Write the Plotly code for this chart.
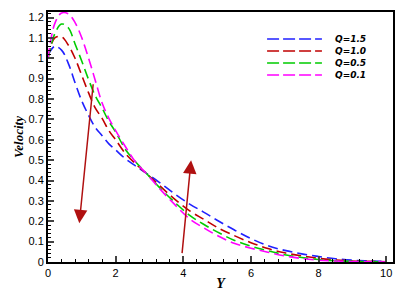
import plotly.graph_objects as go

# ---- data ----
Y = [0, 0.2, 0.4, 0.6, 0.8, 1.0, 1.2, 1.4, 1.6, 1.8, 2.0, 2.3, 2.6, 2.9, 3.3, 3.7,
     4.2, 4.6, 5.0, 5.5, 6.0, 6.5, 7.0, 7.5, 8.0, 8.5, 9.0, 9.5, 10.0]
v_q15 = [1.015, 1.058, 1.04, 0.975, 0.88, 0.79, 0.72, 0.66, 0.62, 0.58, 0.55, 0.505, 0.47, 0.436,
         0.39, 0.34, 0.283, 0.245, 0.205, 0.158, 0.115, 0.08, 0.057, 0.04, 0.027, 0.016, 0.009, 0.005, 0.003]
v_q10 = [1.0, 1.1, 1.105, 1.065, 1.0, 0.915, 0.83, 0.755, 0.705, 0.645, 0.6, 0.53, 0.48, 0.436,
         0.375, 0.315, 0.25, 0.21, 0.17, 0.13, 0.095, 0.066, 0.045, 0.03, 0.018, 0.01, 0.005, 0.003, 0.001]
v_q05 = [1.0, 1.12, 1.168, 1.15, 1.07, 0.985, 0.895, 0.815, 0.755, 0.69, 0.638, 0.55, 0.49, 0.437,
         0.365, 0.3, 0.228, 0.185, 0.148, 0.107, 0.078, 0.055, 0.036, 0.022, 0.012, 0.006, 0.003, 0.001, 0.0]
v_q01 = [1.0, 1.17, 1.222, 1.218, 1.175, 1.1, 1.0, 0.89, 0.78, 0.705, 0.645, 0.563, 0.488, 0.436,
         0.36, 0.29, 0.21, 0.168, 0.13, 0.092, 0.068, 0.048, 0.03, 0.017, 0.009, 0.005, 0.002, 0.001, 0.0]
names = ["Q=1.5", "Q=1.0", "Q=0.5", "Q=0.1"]
colors = ["#2020ff", "#c00000", "#00cc00", "#ff00ff"]
series = [v_q15, v_q10, v_q05, v_q01]

fig = go.Figure()
for vals, nm, c in zip(series, names, colors):
    fig.add_trace(go.Scatter(x=Y, y=vals, mode="lines", name=nm, line_shape="spline",
                             line=dict(color=c, width=1.6, dash="10px,5px"), showlegend=False))

# manual legend
leg_y = [0.892, 0.844, 0.796, 0.748]
for nm, c, ly in zip(names, colors, leg_y):
    fig.add_shape(type="line", xref="paper", yref="paper", x0=0.635, x1=0.794, y0=ly, y1=ly,
                  line=dict(color=c, width=1.3, dash="12px,4px"))
    fig.add_annotation(xref="paper", yref="paper", x=0.826, y=ly, text="<b>" + nm + "</b>", showarrow=False,
                       xanchor="left", yanchor="middle",
                       font=dict(family="DejaVu Sans", size=9, color="black", style="italic"))

arrow_color = "#b01010"
fig.add_annotation(x=0.925, y=0.19, ax=1.34, ay=0.88, xref="x", yref="y", axref="x", ayref="y",
                   showarrow=True, arrowhead=2, arrowsize=1.8, arrowwidth=1.5, arrowcolor=arrow_color, text="")
fig.add_annotation(x=4.23, y=0.5, ax=3.96, ay=0.036, xref="x", yref="y", axref="x", ayref="y",
                   showarrow=True, arrowhead=2, arrowsize=1.8, arrowwidth=1.5, arrowcolor=arrow_color, text="")

tickfont = dict(family="Liberation Sans", size=11, color="black")
fig.update_xaxes(range=[0, 10.2], dtick=2, tick0=0, ticks="inside", ticklen=6, tickwidth=2,
                 showline=True, linecolor="black", linewidth=1.5, mirror=True, showgrid=False,
                 zeroline=False, tickfont=tickfont, automargin=False,
                 minor=dict(dtick=0.4, ticks="inside", ticklen=3, tickwidth=1, tickcolor="black", showgrid=False),
                 title=dict(text="<b><i>Y</i></b>", font=dict(family="Liberation Serif", size=14, color="black"),
                            standoff=0))
fig.update_yaxes(range=[0, 1.227], dtick=0.1, tick0=0, ticks="inside", ticklen=6, tickwidth=2,
                 showline=True, linecolor="black", linewidth=2, mirror=True, showgrid=False,
                 zeroline=False, tickfont=tickfont, automargin=False,
                 minor=dict(dtick=0.02, ticks="inside", ticklen=3, tickwidth=1, tickcolor="black", showgrid=False),
                 title=dict(text="<b><i>Velocity</i></b>", font=dict(family="Liberation Serif", size=13, color="black"),
                            standoff=2))
# page body adds an 8px offset; size the figure so the plot area lands where the reference has it
fig.update_layout(width=399, height=283, margin=dict(l=40, r=14, t=4, b=29, autoexpand=False),
                  plot_bgcolor="white", paper_bgcolor="white", showlegend=False)
fig.write_html("out.html")
